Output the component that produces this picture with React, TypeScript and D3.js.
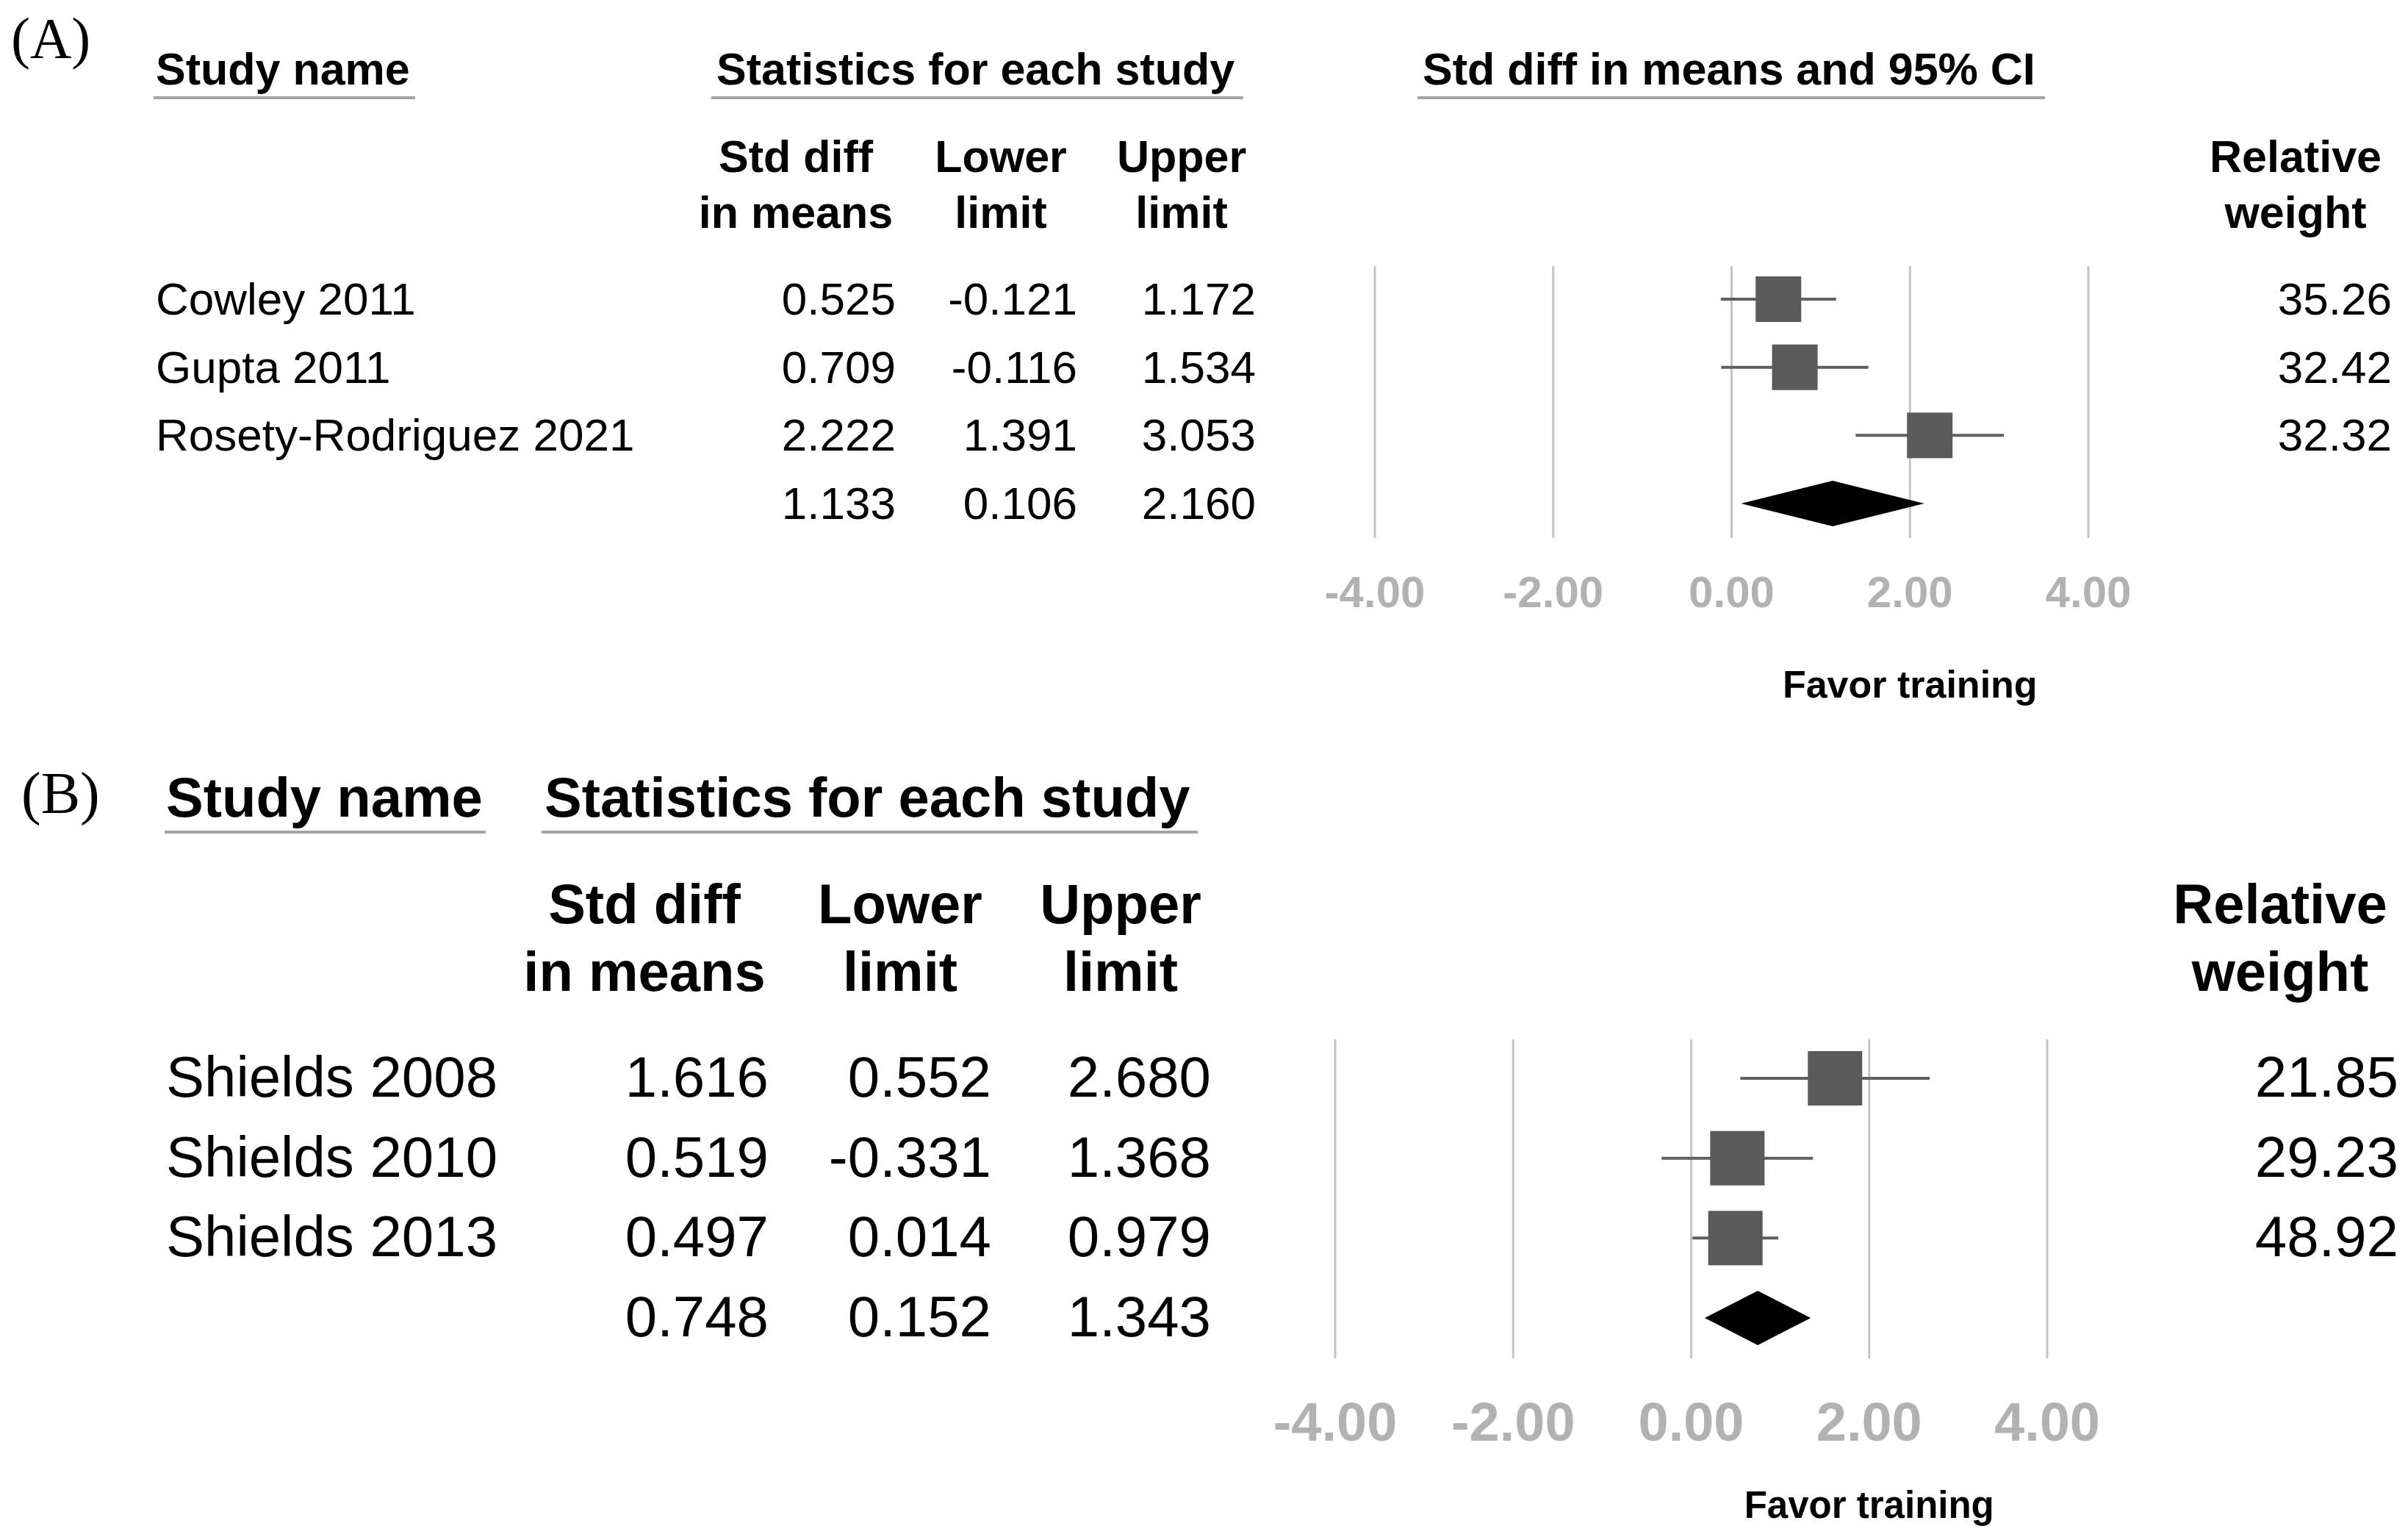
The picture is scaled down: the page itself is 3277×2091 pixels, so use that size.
import React from "react";
import * as d3 from "d3";

// ---------- Data ----------
const studiesA = ["Cowley 2011", "Gupta 2011", "Rosety-Rodriguez 2021"];
const smdA = [0.525, 0.709, 2.222];
const lowerA = [-0.121, -0.116, 1.391];
const upperA = [1.172, 1.534, 3.053];
const weightA = [35.26, 32.42, 32.32];
const summaryA = [1.133, 0.106, 2.16];

const studiesB = ["Shields 2008", "Shields 2010", "Shields 2013"];
const smdB = [1.616, 0.519, 0.497];
const lowerB = [0.552, -0.331, 0.014];
const upperB = [2.68, 1.368, 0.979];
const weightB = [21.85, 29.23, 48.92];
const summaryB = [0.748, 0.152, 1.343];

const axisTicks = [-4, -2, 0, 2, 4];
const axisDomain = [-4, 4];
const axisLabel = "Favor training";

const SANS = "'Liberation Sans', Arial, Helvetica, sans-serif";
const SERIF = "'Liberation Serif', 'Times New Roman', serif";

const COL_TEXT = "#000";
const COL_MARK = "#5a5a5a";
const COL_CI = "#5f5f5f";
const COL_GRID = "#c4c4c4";
const COL_TICK = "#b2b2b2";
const COL_UNDER = "#a4a4a4";

type PanelData = {
  tag: string;
  studies: string[];
  smd: number[];
  lower: number[];
  upper: number[];
  weight: number[];
  summary: number[];
  showCIHeader: boolean;
};

type Layout = {
  tagX: number; tagY: number; tagSize: number;
  headY: number; headSize: number; underY: number;
  nameX: number; nameUnder: [number, number];
  statX: number; statUnder: [number, number];
  ciX: number; ciUnder: [number, number];
  colHeadY1: number; colHeadY2: number; colCenters: number[]; relCenter: number;
  rowY0: number; rowY3: number; rowSize: number; markOffset: number;
  colRights: number[]; weightRight: number;
  xRange: [number, number]; gridTop: number; gridBottom: number;
  tickY: number; tickSize: number; favorY: number; favorSize: number;
  square: number; ciWidth: number;
};

const layoutA: Layout = {
  tagX: 15, tagY: 78, tagSize: 78,
  headY: 115, headSize: 61, underY: 133,
  nameX: 212, nameUnder: [209, 565],
  statX: 975, statUnder: [968, 1692],
  ciX: 1936, ciUnder: [1929, 2783],
  colHeadY1: 234, colHeadY2: 310, colCenters: [1083, 1362, 1608], relCenter: 3124,
  rowY0: 428, rowY3: 706, rowSize: 62, markOffset: 21,
  colRights: [1219, 1466, 1709], weightRight: 3255,
  xRange: [1871, 2842], gridTop: 362, gridBottom: 732,
  tickY: 826, tickSize: 60, favorY: 949, favorSize: 52,
  square: 62, ciWidth: 4,
};

const layoutB: Layout = {
  tagX: 29, tagY: 1106, tagSize: 80,
  headY: 1111, headSize: 76, underY: 1132,
  nameX: 226, nameUnder: [224, 661],
  statX: 741, statUnder: [737, 1630],
  ciX: 0, ciUnder: [0, 0],
  colHeadY1: 1256, colHeadY2: 1348, colCenters: [877, 1225, 1525], relCenter: 3103,
  rowY0: 1492, rowY3: 1818, rowSize: 78, markOffset: 25,
  colRights: [1046, 1349, 1648], weightRight: 3264,
  xRange: [1817, 2786], gridTop: 1414, gridBottom: 1848,
  tickY: 1960, tickSize: 74, favorY: 2065, favorSize: 51,
  square: 74, ciWidth: 4,
};

const f3 = (v: number) => v.toFixed(3);
const f2 = (v: number) => v.toFixed(2);

function Panel({ d, L }: { d: PanelData; L: Layout }) {
  const x = d3.scaleLinear().domain(axisDomain).range(L.xRange);
  const yRow = d3.scaleLinear().domain([0, 3]).range([L.rowY0, L.rowY3]);
  const nRows = d.studies.length;
  const sumIdx = nRows;
  const diamondY = yRow(sumIdx) - L.markOffset;
  const h = L.square / 2;
  const diamond = d3.line()([
    [x(d.summary[1]), diamondY],
    [x(d.summary[0]), diamondY - h],
    [x(d.summary[2]), diamondY],
    [x(d.summary[0]), diamondY + h],
  ]) + "Z";

  const bold = { fontFamily: SANS, fontWeight: 700 as const, fill: COL_TEXT };
  const reg = { fontFamily: SANS, fontWeight: 400 as const, fill: COL_TEXT };

  return (
    <g>
      <text x={L.tagX} y={L.tagY} fontFamily={SERIF} fontSize={L.tagSize} fill={COL_TEXT}>{d.tag}</text>

      {/* top headers */}
      <text x={L.nameX} y={L.headY} fontSize={L.headSize} {...bold}>Study name</text>
      <line x1={L.nameUnder[0]} x2={L.nameUnder[1]} y1={L.underY} y2={L.underY} stroke={COL_UNDER} strokeWidth={4} />
      <text x={L.statX} y={L.headY} fontSize={L.headSize} {...bold}>Statistics for each study</text>
      <line x1={L.statUnder[0]} x2={L.statUnder[1]} y1={L.underY} y2={L.underY} stroke={COL_UNDER} strokeWidth={4} />
      {d.showCIHeader && (
        <>
          <text x={L.ciX} y={L.headY} fontSize={L.headSize} {...bold}>Std diff in means and 95% CI</text>
          <line x1={L.ciUnder[0]} x2={L.ciUnder[1]} y1={L.underY} y2={L.underY} stroke={COL_UNDER} strokeWidth={4} />
        </>
      )}

      {/* column headers */}
      {[["Std diff", "in means"], ["Lower", "limit"], ["Upper", "limit"]].map((lines, i) => (
        <g key={"ch" + i}>
          <text x={L.colCenters[i]} y={L.colHeadY1} textAnchor="middle" fontSize={L.headSize} {...bold}>{lines[0]}</text>
          <text x={L.colCenters[i]} y={L.colHeadY2} textAnchor="middle" fontSize={L.headSize} {...bold}>{lines[1]}</text>
        </g>
      ))}
      <text x={L.relCenter} y={L.colHeadY1} textAnchor="middle" fontSize={L.headSize} {...bold}>Relative</text>
      <text x={L.relCenter} y={L.colHeadY2} textAnchor="middle" fontSize={L.headSize} {...bold}>weight</text>

      {/* grid lines */}
      {axisTicks.map((t) => (
        <line key={"g" + t} x1={x(t)} x2={x(t)} y1={L.gridTop} y2={L.gridBottom} stroke={COL_GRID} strokeWidth={3} />
      ))}
      {axisTicks.map((t) => (
        <text key={"t" + t} x={x(t)} y={L.tickY} textAnchor="middle" fontSize={L.tickSize}
          fontFamily={SANS} fontWeight={700} fill={COL_TICK}>{f2(t)}</text>
      ))}
      <text x={x(2)} y={L.favorY} textAnchor="middle" fontSize={L.favorSize} {...bold}>{axisLabel}</text>

      {/* study rows */}
      {d.studies.map((s, i) => {
        const yb = yRow(i);
        const yc = yb - L.markOffset;
        return (
          <g key={s}>
            <text x={L.nameX} y={yb} fontSize={L.rowSize} {...reg}>{s}</text>
            <text x={L.colRights[0]} y={yb} textAnchor="end" fontSize={L.rowSize} {...reg}>{f3(d.smd[i])}</text>
            <text x={L.colRights[1]} y={yb} textAnchor="end" fontSize={L.rowSize} {...reg}>{f3(d.lower[i])}</text>
            <text x={L.colRights[2]} y={yb} textAnchor="end" fontSize={L.rowSize} {...reg}>{f3(d.upper[i])}</text>
            <text x={L.weightRight} y={yb} textAnchor="end" fontSize={L.rowSize} {...reg}>{f2(d.weight[i])}</text>
            <line x1={x(d.lower[i])} x2={x(d.upper[i])} y1={yc} y2={yc} stroke={COL_CI} strokeWidth={L.ciWidth} />
            <rect x={x(d.smd[i]) - L.square / 2} y={yc - L.square / 2} width={L.square} height={L.square} fill={COL_MARK} />
          </g>
        );
      })}

      {/* summary row */}
      <text x={L.colRights[0]} y={yRow(sumIdx)} textAnchor="end" fontSize={L.rowSize} {...reg}>{f3(d.summary[0])}</text>
      <text x={L.colRights[1]} y={yRow(sumIdx)} textAnchor="end" fontSize={L.rowSize} {...reg}>{f3(d.summary[1])}</text>
      <text x={L.colRights[2]} y={yRow(sumIdx)} textAnchor="end" fontSize={L.rowSize} {...reg}>{f3(d.summary[2])}</text>
      <path d={diamond} fill="#000" />
    </g>
  );
}

export default function App() {
  const A: PanelData = {
    tag: "(A)", studies: studiesA, smd: smdA, lower: lowerA, upper: upperA,
    weight: weightA, summary: summaryA, showCIHeader: true,
  };
  const B: PanelData = {
    tag: "(B)", studies: studiesB, smd: smdB, lower: lowerB, upper: upperB,
    weight: weightB, summary: summaryB, showCIHeader: false,
  };
  return (
    <svg width={3277} height={2091} viewBox="0 0 3277 2091"
      style={{ position: "absolute", left: 0, top: 0, display: "block", background: "#fff" }}>
      <rect x={0} y={0} width={3277} height={2091} fill="#fff" />
      <Panel d={A} L={layoutA} />
      <Panel d={B} L={layoutB} />
    </svg>
  );
}
